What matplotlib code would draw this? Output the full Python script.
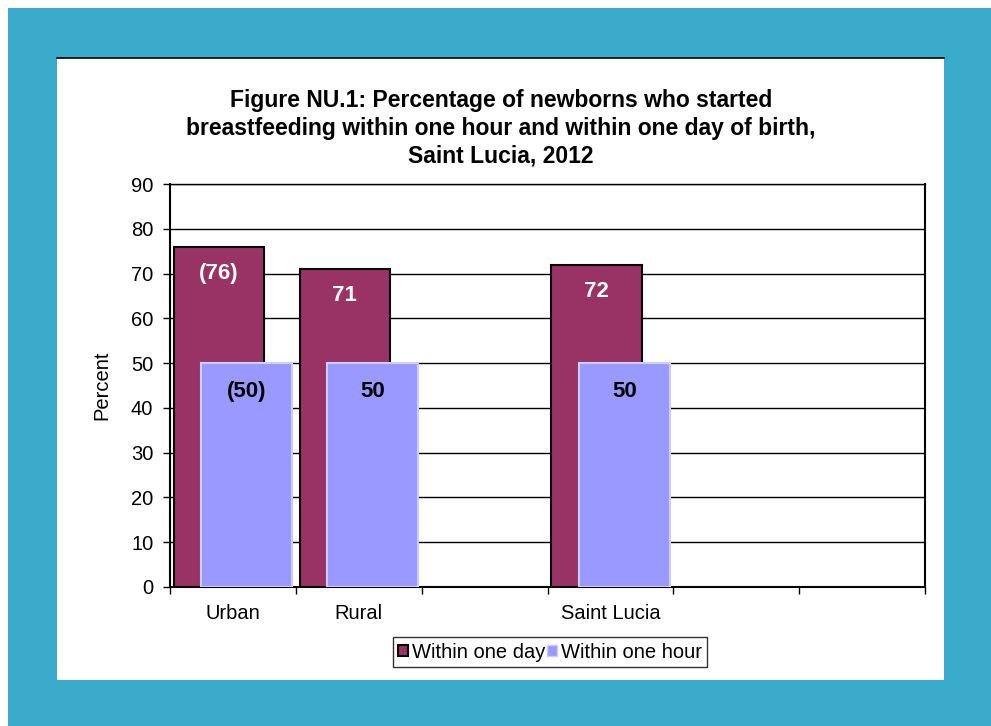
import matplotlib.pyplot as plt
from matplotlib.patches import Rectangle
import numpy as np

plt.rcParams['font.family'] = ['Liberation Sans', 'DejaVu Sans']

categories = ["Urban", "Rural", "", "Saint Lucia", "", ""]
within_day = [76, 71, None, 72, None, None]
within_hour = [50, 50, None, 50, None, None]
day_labels = ["(76)", "71", None, "72", None, None]
hour_labels = ["(50)", "50", None, "50", None, None]

teal = "#3AABCB"
day_color = "#993366"
hour_color = "#9999FF"

fig = plt.figure(figsize=(9.91, 7.26), dpi=100)
fig.patch.set_facecolor("white")

# teal frame with a white panel inside
W, H = 991, 726
fig.patches.append(Rectangle((8 / W, 0), 1 - 8 / W, 1 - 8 / H, transform=fig.transFigure,
                             facecolor=teal, edgecolor="none", zorder=0))
fig.patches.append(Rectangle((57 / W, 1 - 680 / H), (944 - 57) / W, (680 - 58) / H,
                             transform=fig.transFigure, facecolor="white",
                             edgecolor="none", zorder=1))
fig.lines.append(plt.Line2D([57 / W, 944 / W], [1 - 58 / H, 1 - 58 / H],
                            transform=fig.transFigure, color="black", lw=1.2, zorder=2))

ax = fig.add_axes([170 / W, 1 - 587 / H, (925 - 170) / W, (587 - 184) / H])
ax.set_zorder(3)
ax.set_facecolor("white")

x = np.arange(len(categories))
width = 0.72
for i in x:
    if within_day[i] is None:
        continue
    ax.bar(i + 0.39, within_day[i], width, color=day_color, edgecolor="black",
           linewidth=1.5, zorder=3)
    ax.text(i + 0.39, within_day[i] - 6, day_labels[i], ha="center", va="center",
            color="white", fontsize=16, fontweight="bold", zorder=5)
    ax.bar(i + 0.61, within_hour[i], width, color=hour_color, edgecolor="#CCCCFF",
           linewidth=1.5, zorder=4)
    ax.text(i + 0.61, within_hour[i] - 6.4, hour_labels[i], ha="center", va="center",
            color="black", fontsize=16, fontweight="bold", zorder=5)

ax.set_xlim(0, len(categories))
ax.set_ylim(0, 90)
ax.set_yticks(np.arange(0, 91, 10))
ax.yaxis.grid(True, color="black", linewidth=1.0, zorder=1)
ax.set_axisbelow(True)

ax.set_xticks(np.arange(0, len(categories) + 1))
ax.set_xticklabels([])
ax.set_xticks(x + 0.5, minor=True)
ax.set_xticklabels(categories, minor=True, fontsize=14.5)
ax.tick_params(axis="x", which="minor", length=0, pad=12)
ax.tick_params(axis="x", which="major", length=5, width=1, direction="out")
ax.tick_params(axis="y", length=5, width=1, direction="out", labelsize=14.5, pad=7)

for side in ["left", "bottom", "right", "top"]:
    ax.spines[side].set_linewidth(1.5)
ax.spines["top"].set_linewidth(1.0)

ax.set_ylabel("Percent", fontsize=14.5, labelpad=14)

fig.text(501 / W, 1 - 128 / H,
         "Figure NU.1: Percentage of newborns who started\n"
         "breastfeeding within one hour and within one day of birth,\n"
         "Saint Lucia, 2012",
         ha="center", va="center", fontsize=16.5, fontweight="bold",
         linespacing=1.27, zorder=4)

handles = [Rectangle((0, 0), 1, 1, facecolor=day_color, edgecolor="black", lw=1.5),
           Rectangle((0, 0), 1, 1, facecolor=hour_color, edgecolor="#CCCCFF", lw=1)]
leg = fig.legend(handles, ["Within one day", "Within one hour"], ncol=2,
                 loc="center", bbox_to_anchor=(550 / W, 1 - 652 / H),
                 fontsize=14.5, frameon=True, fancybox=False, edgecolor="black",
                 handlelength=0.5, handleheight=0.5, handletextpad=0.2,
                 columnspacing=0.1, borderpad=0.25, borderaxespad=0)
leg.get_frame().set_linewidth(1.0)
leg.set_zorder(5)

fig.savefig("out.png", dpi=100, facecolor="white")
